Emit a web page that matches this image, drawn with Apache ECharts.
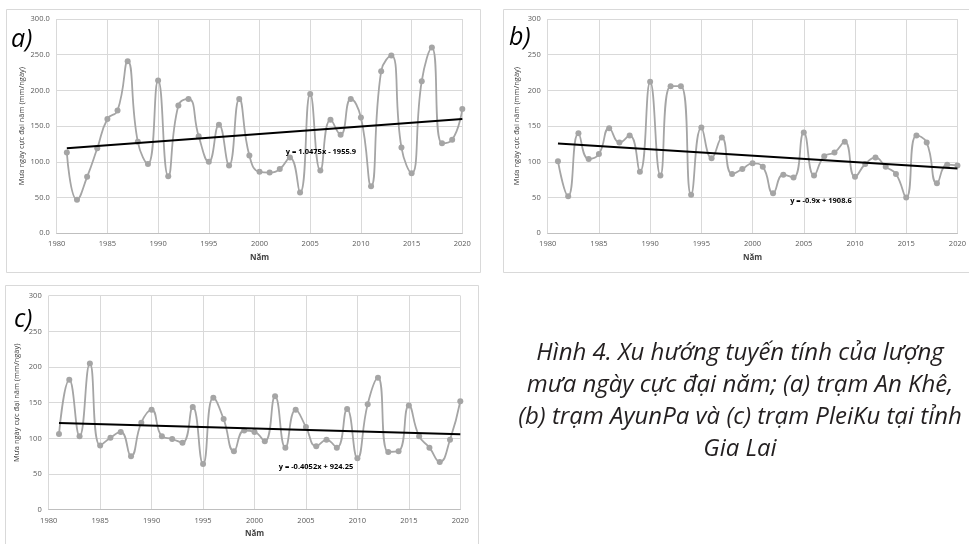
<!DOCTYPE html>
<html>
<head>
<meta charset="utf-8">
<title>Hình 4</title>
<script src="https://cdn.jsdelivr.net/npm/echarts@6/dist/echarts.min.js"></script>
<style>
  html, body { margin: 0; padding: 0; background: #fff; }
  #chart { width: 969px; height: 544px; }
</style>
</head>
<body>
<div id="chart"></div>
<script>
  // năm quan trắc
  var years = [];
  for (var y = 1981; y <= 2020; y++) years.push(y);

  // (a) trạm An Khê
  var anKhe = [113, 47, 79, 119, 160, 172, 241, 128, 97, 214,
               80, 179, 188, 136, 100, 152, 95, 188, 109, 86,
               85, 90, 106, 57, 195, 88, 159, 138, 188, 162,
               66, 227, 249, 120, 84, 213, 260, 126, 131, 174];
  // (b) trạm AyunPa
  var ayunPa = [101, 52, 140, 104, 111, 147, 127, 137, 86, 212,
                81, 206, 206, 54, 148, 105, 134, 83, 90, 98,
                93, 56, 82, 78, 141, 81, 108, 113, 128, 79,
                97, 106, 93, 83, 50, 137, 127, 70, 96, 95];
  // (c) trạm PleiKu
  var pleiKu = [106, 182, 103, 205, 90, 101, 109, 75, 122, 140,
                103, 99, 94, 144, 64, 157, 127, 82, 111, 109,
                96, 159, 87, 140, 116, 89, 98, 87, 141, 72,
                148, 185, 81, 82, 146, 103, 87, 67, 98, 152];

  // phương trình xu hướng [hệ số góc, hệ số tự do, nhãn]
  var trendA = [1.0475, -1955.9, 'y = 1.0475x - 1955.9'];
  var trendB = [-0.9, 1908.6, 'y = -0.9x + 1908.6'];
  var trendC = [-0.4052, 924.25, 'y = -0.4052x + 924.25'];

  var xTicks = [1980, 2020, 5];
  var yTicks = [0, 300, 50];

  var grey = '#a5a5a5';
  var gridColor = '#d9d9d9';
  var tickFont = 'Open Sans';

  function pairs(vals) {
    return years.map(function (yr, i) { return [yr, vals[i]]; });
  }
  function trendLine(t) {
    var x0 = years[0], x1 = years[years.length - 1];
    return [[x0, t[0] * x0 + t[1]], [x1, t[0] * x1 + t[1]]];
  }

  function makeX(idx) {
    return {
      type: 'value', gridIndex: idx,
      min: xTicks[0], max: xTicks[1], interval: xTicks[2],
      name: 'Năm', nameLocation: 'middle', nameGap: 20,
      nameTextStyle: { fontSize: 8, fontWeight: 'bold', color: '#404040', fontFamily: tickFont },
      axisLine: { lineStyle: { color: '#bfbfbf' } },
      axisTick: { show: false },
      axisLabel: { fontSize: 7.5, color: '#595959', fontFamily: tickFont, margin: 7,
                   formatter: function (v) { return String(v); } },
      splitLine: { show: true, lineStyle: { color: gridColor, width: 1 } }
    };
  }
  function makeY(idx, decimals, gap) {
    return {
      type: 'value', gridIndex: idx,
      min: yTicks[0], max: yTicks[1], interval: yTicks[2],
      name: 'Mưa ngày cực đại năm (mm/ngày)', nameLocation: 'middle', nameGap: gap, nameRotate: 90,
      nameTextStyle: { fontSize: 7.5, color: '#404040', fontFamily: tickFont },
      axisLine: { show: false },
      axisTick: { show: false },
      axisLabel: {
        fontSize: 7.5, color: '#595959', fontFamily: tickFont, margin: 7,
        formatter: function (v) { return decimals ? v.toFixed(1) : String(v); }
      },
      splitLine: { show: true, lineStyle: { color: gridColor, width: 1 } }
    };
  }
  function dataSeries(idx, vals) {
    return {
      type: 'line', xAxisIndex: idx, yAxisIndex: idx,
      data: pairs(vals), smooth: 0.5,
      symbol: 'circle', symbolSize: 6,
      lineStyle: { color: grey, width: 1.8 },
      itemStyle: { color: grey },
      z: 2
    };
  }
  function trendSeries(idx, t) {
    return {
      type: 'line', xAxisIndex: idx, yAxisIndex: idx,
      data: trendLine(t), symbol: 'none',
      lineStyle: { color: '#000', width: 2 },
      z: 3
    };
  }
  function box(x, yy, w, h) {
    return { type: 'rect', shape: { x: x, y: yy, width: w, height: h },
             style: { fill: 'none', stroke: '#d9d9d9', lineWidth: 1 }, z: 0 };
  }
  function txt(x, yy, s, font, align) {
    return { type: 'text', x: x, y: yy, z: 10,
             style: { text: s, font: font, fill: '#000', align: align || 'left', verticalAlign: 'middle' } };
  }

  var myChart = echarts.init(document.getElementById('chart'), null, { renderer: 'canvas' });
  var option = {
    backgroundColor: '#fff',
    animation: false,
    grid: [
      { left: 56.7, top: 19, width: 405.6, height: 214.3 },
      { left: 547.7, top: 19, width: 411.6, height: 214.3 },
      { left: 48.7, top: 295.7, width: 411.6, height: 214 }
    ],
    xAxis: [makeX(0), makeX(1), makeX(2)],
    yAxis: [makeY(0, true, 31), makeY(1, false, 27), makeY(2, false, 28)],
    series: [
      dataSeries(0, anKhe), trendSeries(0, trendA),
      dataSeries(1, ayunPa), trendSeries(1, trendB),
      dataSeries(2, pleiKu), trendSeries(2, trendC)
    ],
    graphic: [
      box(6.5, 9.5, 474, 263),
      box(503.5, 9.5, 480, 263),
      box(5.5, 285.5, 473, 280),
      txt(11, 40, 'a)', 'italic 25px "Open Sans"'),
      txt(509, 38, 'b)', 'italic 25px "Open Sans"'),
      txt(14, 320, 'c)', 'italic 25px "Open Sans"'),
      txt(321, 152, trendA[2], 'bold 7.5px "Open Sans"', 'center'),
      txt(821, 201, trendB[2], 'bold 7.5px "Open Sans"', 'center'),
      txt(316, 467, trendC[2], 'bold 7.5px "Open Sans"', 'center'),
      {
        type: 'text', x: 740, y: 337, z: 10,
        style: {
          text: 'Hình 4. Xu hướng tuyến tính của lượng\nmưa ngày cực đại năm; (a) trạm An Khê,\n(b) trạm AyunPa và (c) trạm PleiKu tại tỉnh\nGia Lai',
          font: 'italic 24px "Open Sans"', fill: '#231f20',
          align: 'center', verticalAlign: 'top', lineHeight: 32
        }
      }
    ]
  };
  myChart.setOption(option, true);
</script>
</body>
</html>
